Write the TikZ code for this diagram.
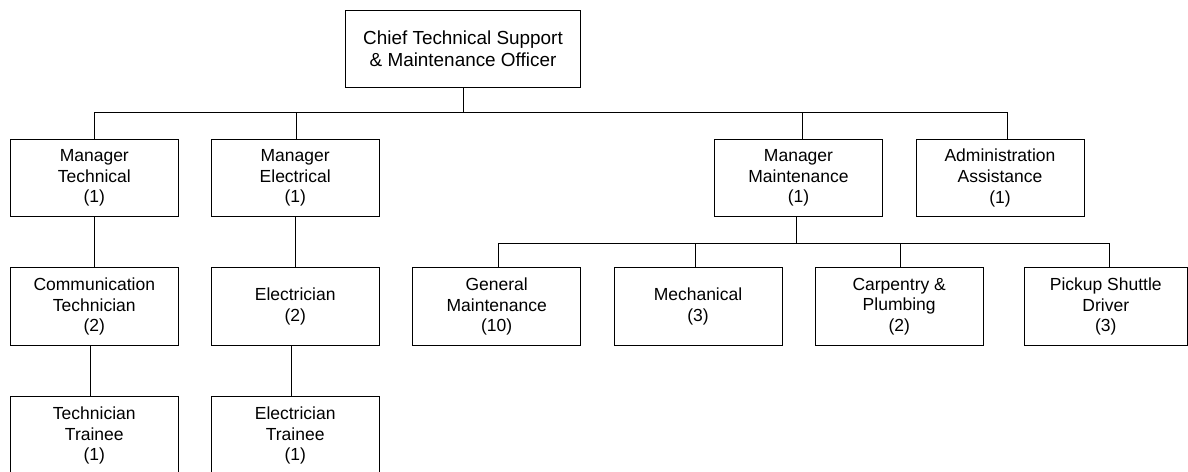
\documentclass[tikz,border=0pt]{standalone}
\usepackage{fontspec}
\setmainfont{Liberation Sans}
\usetikzlibrary{positioning}

\begin{document}
\begin{tikzpicture}[
            x=1pt, y=-1pt,
            unit/.style={rectangle, draw, line width=1pt,
                minimum width=168pt, minimum height=77.7pt,
                inner sep=0pt, align=center,
                font=\fontsize{17.5}{20.7}\selectfont
            },
            link/.style={draw, line width=1pt}
        ]
            \useasboundingbox (0,0) rectangle (1188,471);

            % top
            \node [unit, minimum width=235.4pt, minimum height=77.3pt, font=\fontsize{18.9}{21.7}\selectfont] (chief) at (463,48.7) {Chief Technical Support\\\& Maintenance Officer};

            % managers
            \node [unit] (mtech) at (94.3,177.9) {Manager\\Technical\\(1)};
            \node [unit] (melec) at (295.2,177.9) {Manager\\Electrical\\(1)};
            \node [unit] (mmaint) at (798.5,177.9) {Manager\\Maintenance\\(1)};
            \node [unit] (admin) at (1000,177.9) {Administration\\Assistance\\(1)};

            % staff
            \node [unit] (commtech) at (94.3,306.5) {Communication\\Technician\\(2)};
            \node [unit] (elec) at (295.2,306.5) {Electrician\\(2)};
            \node [unit] (genmaint) at (496.7,306.5) {General\\Maintenance\\(10)};
            \node [unit] (mech) at (698,306.5) {Mechanical\\(3)};
            \node [unit] (carp) at (899.2,306.5) {Carpentry \&\\Plumbing\\(2)};
            \node [unit, minimum width=163pt] (shuttle) at (1105.8,306.5) {Pickup Shuttle\\Driver\\(3)};

            % trainees
            \node [unit] (techtr) at (94.3,435.6) {Technician\\Trainee\\(1)};
            \node [unit] (electr) at (295.2,435.6) {Electrician\\Trainee\\(1)};

            % bus lines
            \coordinate (hubtop) at (463,112);
            \coordinate (hubmaint) at (796.3,243.3);

            \path [link] (chief.south) -- (hubtop);
            \path [link] (hubtop) -| (mtech.north);
            \path [link] (hubtop) -| ([xshift=1pt]melec.north);
            \path [link] (hubtop) -| ([xshift=3.8pt]mmaint.north);
            \path [link] (hubtop) -| ([xshift=7.3pt]admin.north);

            \path [link] (mtech.south) -- (commtech.north);
            \path [link] (melec.south) -- (elec.north);
            \path [link] ([xshift=-3.6pt]commtech.south) -- ([xshift=-3.6pt]techtr.north);
            \path [link] ([xshift=-3.5pt]elec.south) -- ([xshift=-3.5pt]electr.north);

            \path [link] ([xshift=-2.2pt]mmaint.south) -- (hubmaint);
            \path [link] (hubmaint) -| ([xshift=1.3pt]genmaint.north);
            \path [link] (hubmaint) -| ([xshift=-2.3pt]mech.north);
            \path [link] (hubmaint) -| ([xshift=1.1pt]carp.north);
            \path [link] (hubmaint) -| ([xshift=3.5pt]shuttle.north);
        \end{tikzpicture}
\end{document}
